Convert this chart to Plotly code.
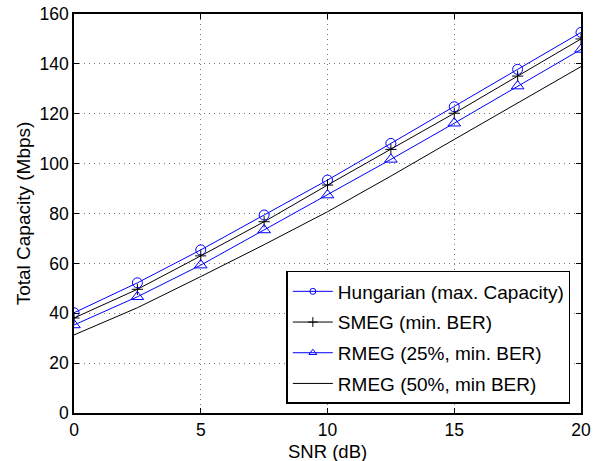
import plotly.graph_objects as go

snr = [0, 2.5, 5, 7.5, 10, 12.5, 15, 17.5, 20]
hungarian = [40.2, 52.2, 65.4, 79.4, 93.4, 108.1, 122.8, 137.8, 152.6]
smeg = [38.1, 49.6, 63.0, 76.7, 91.4, 105.7, 120.2, 135.1, 150.0]
rmeg25 = [35.3, 46.6, 59.3, 73.4, 87.4, 101.7, 116.2, 131.1, 145.8]
rmeg50 = [31.3, 42.2, 54.7, 67.5, 80.7, 95.0, 109.7, 124.2, 138.9]

names = ["Hungarian (max. Capacity)", "SMEG (min. BER)", "RMEG (25%, min. BER)", "RMEG (50%, min BER)"]
x_title = "SNR (dB)"
y_title = "Total Capacity (Mbps)"
blue = "#0000ff"

series = [
    (hungarian, names[0], blue, "circle-open", 10, 6),
    (smeg, names[1], "black", "cross-thin", 8, 7),
    (rmeg25, names[2], blue, "triangle-up-open", 11, 7),
    (rmeg50, names[3], "black", None, 0, 0),
]

fig = go.Figure()
for i, (vals, name, color, sym, size, lsize) in enumerate(series):
    if sym:
        fig.add_trace(go.Scatter(x=snr, y=vals, name=name, mode="lines+markers", showlegend=False,
                                 line=dict(color=color, width=1),
                                 marker=dict(symbol=sym, size=size, color=color, line=dict(width=1, color=color))))
        # legend entry with smaller marker, as in the reference
        fig.add_trace(go.Scatter(x=[None], y=[None], name=name, legendgroup="g%d" % i, mode="lines+markers",
                                 line=dict(color=color, width=1),
                                 marker=dict(symbol=sym, size=lsize, color=color, line=dict(width=1, color=color))))
    else:
        fig.add_trace(go.Scatter(x=snr, y=vals, name=name, legendgroup="g%d" % i, mode="lines",
                                 line=dict(color=color, width=1)))

axis_common = dict(showline=True, linecolor="black", linewidth=1.5, mirror="allticks",
                   ticks="inside", ticklen=5, tickcolor="black", automargin=False,
                   showgrid=True, gridcolor="#777777", griddash="1px,4px", gridwidth=1,
                   zeroline=False, tickfont=dict(size=17.5, color="black"))

fig.update_xaxes(range=[0, 20], tickvals=[0, 5, 10, 15, 20], **axis_common)
fig.update_yaxes(range=[0, 160], tickvals=[0, 20, 40, 60, 80, 100, 120, 140, 160],
                 title=dict(text=y_title, font=dict(size=19, color="black"), standoff=4),
                 **axis_common)

fig.add_annotation(text=x_title, xref="paper", yref="paper", x=0.5, y=-0.096,
                   xanchor="center", yanchor="middle", showarrow=False,
                   font=dict(size=18.5, color="black"))

fig.update_layout(
    width=596, height=461,
    margin=dict(l=74, r=15, t=14, b=48, autoexpand=False),
    paper_bgcolor="white", plot_bgcolor="white",
    font=dict(family="Liberation Sans, Arial, Helvetica, sans-serif", color="black"),
    legend=dict(x=0.979, y=0.0226, xanchor="right", yanchor="bottom",
                bgcolor="white", bordercolor="black", borderwidth=1.5,
                font=dict(size=19, color="black"), itemwidth=40,
                tracegroupgap=3, traceorder="grouped"),
)

fig.write_html("out.html")
